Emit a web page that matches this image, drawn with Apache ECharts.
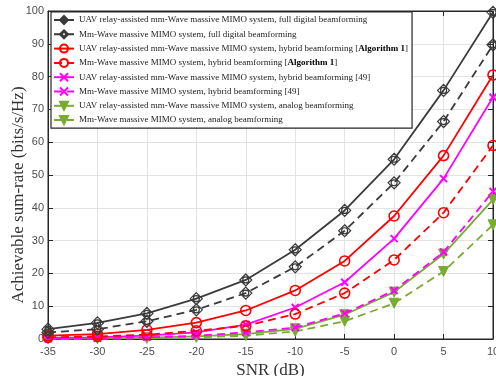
<!DOCTYPE html>
<html><head><meta charset="utf-8">
<script src="https://cdn.jsdelivr.net/npm/echarts@6/dist/echarts.min.js"></script>
<style>html,body{margin:0;padding:0;background:#fff}#c{width:496px;height:376px}</style>
</head><body><div id="c"></div>
<script>
const snr = [-35, -30, -25, -20, -15, -10, -5, 0, 5, 10];
const xTicks = [-35, -30, -25, -20, -15, -10, -5, 0, 5, 10];
const yTicks = [0, 10, 20, 30, 40, 50, 60, 70, 80, 90, 100];
const uavFullDigital = [3, 4.9, 7.8, 12.3, 18, 27.2, 39.2, 54.8, 75.8, 99.6];
const mmFullDigital = [2, 3, 5.4, 8.9, 14, 22, 33, 47.6, 66.3, 89.7];
const uavHybridAlg1 = [1, 1.5, 2.8, 5, 8.7, 14.8, 23.8, 37.5, 55.9, 80.5];
const mmHybridAlg1 = [0.5, 0.8, 1.3, 2.5, 4, 7.6, 14, 24.1, 38.5, 59];
const uavHybrid49 = [0.3, 0.5, 1, 2, 4.4, 9.6, 17.3, 30.6, 48.9, 73.7];
const mmHybrid49 = [0.1, 0.2, 0.5, 1, 2, 3.5, 7.8, 14.8, 26.5, 45];
const uavAnalog = [0.1, 0.2, 0.4, 0.8, 1.5, 3.1, 7.4, 14.3, 25.9, 42.5];
const mmAnalog = [0.05, 0.1, 0.2, 0.5, 1, 2.3, 5.4, 10.9, 20.6, 34.8];
const names = [
  'UAV relay-assisted mm-Wave massive MIMO system, full digital beamforming',
  'Mm-Wave massive MIMO system, full digital beamforming',
  'UAV relay-assisted mm-Wave massive MIMO system, hybrid beamforming [Algorithm 1]',
  'Mm-Wave massive MIMO system, hybrid beamforming [Algorithm 1]',
  'UAV relay-assisted mm-Wave massive MIMO system, hybrid beamforming [49]',
  'Mm-Wave massive MIMO system, hybrid beamforming [49]',
  'UAV relay-assisted mm-Wave massive MIMO system, analog beamforming',
  'Mm-Wave massive MIMO system, analog beamforming'
];
const datas = [uavFullDigital, mmFullDigital, uavHybridAlg1, mmHybridAlg1, uavHybrid49, mmHybrid49, uavAnalog, mmAnalog];

const DIAMOND = 'path://M0,-10 L10,0 L0,10 L-10,0 Z M5,0 A5,5 0 1,1 -5,0 A5,5 0 1,1 5,0 Z';
const XMARK = 'path://M-5,-5 L5,5 M5,-5 L-5,5';
const styles = [
  {c:'#3a3a3a', sym:DIAMOND, size:12, dash:'solid', fill:'transparent', bw:1.2},
  {c:'#3a3a3a', sym:DIAMOND, size:12, dash:[8,5], fill:'transparent', bw:1.2},
  {c:'#ff0000', sym:'circle', size:10, dash:'solid', fill:'transparent', bw:1.6},
  {c:'#ff0000', sym:'circle', size:10, dash:[8,5], fill:'transparent', bw:1.6},
  {c:'#ff00ff', sym:XMARK, size:7, dash:'solid', fill:'transparent', bw:2},
  {c:'#ff00ff', sym:XMARK, size:7, dash:[8,5], fill:'transparent', bw:2},
  {c:'#77ac30', sym:'triangle', size:10, dash:'solid', fill:'#77ac30', bw:1},
  {c:'#77ac30', sym:'triangle', size:10, dash:[8,5], fill:'#77ac30', bw:1}
];

const series = names.map((n, i) => ({
  name: n,
  type: 'line',
  data: snr.map((x, j) => [x, datas[i][j]]),
  symbol: styles[i].sym,
  symbolSize: styles[i].size,
  symbolRotate: styles[i].sym === 'triangle' ? 180 : 0,
  showAllSymbol: true,
  lineStyle: {color: styles[i].c, width: 1.8, type: styles[i].dash},
  itemStyle: {color: styles[i].fill, borderColor: styles[i].c, borderWidth: styles[i].bw},
  z: 10 - i,
  animation: false
}));

const chart = echarts.init(document.getElementById('c'), null, {renderer: 'canvas'});
const tickLabel = {color: '#4d4d4d', fontFamily: 'Liberation Sans', fontSize: 11};
const axisLineStyle = {show: true, onZero: false, lineStyle: {color: '#262626'}};
chart.setOption({
  backgroundColor: '#fff',
  animation: false,
  grid: {left: 48, right: 3, top: 11, bottom: 37, containLabel: false, outerBoundsMode: 'none',
         show: true, borderColor: '#262626', borderWidth: 1},
  legend: {
    orient: 'vertical', left: 51, top: 12,
    itemWidth: 20, itemHeight: 10, itemGap: 4.3,
    padding: [3, 4, 3, 2],
    backgroundColor: '#fff', borderColor: '#262626', borderWidth: 1.2,
    data: names,
    formatter: function (n) {
      if (n.indexOf('[Algorithm 1]') >= 0) {
        return '{n|' + n.replace(' [Algorithm 1]', ' [') + '}{b|Algorithm 1}{n|]}';
      }
      return '{n|' + n + '}';
    },
    textStyle: {
      rich: {
        n: {fontFamily: 'Liberation Serif', fontSize: 9, color: '#222'},
        b: {fontFamily: 'Liberation Serif', fontSize: 9, fontWeight: 'bold', color: '#000'}
      }
    }
  },
  xAxis: [{
    type: 'value', min: -35, max: 10, interval: 5,
    name: 'SNR (dB)', nameLocation: 'middle', nameGap: 23, nameMoveOverlap: false,
    nameTextStyle: {fontFamily: 'Liberation Serif', fontSize: 17, color: '#333'},
    axisLine: axisLineStyle,
    axisTick: {inside: true, length: 5, lineStyle: {color: '#262626'}},
    axisLabel: Object.assign({margin: 7}, tickLabel),
    splitLine: {show: true, lineStyle: {color: '#e3e3e3', width: 1}}
  }, {
    type: 'value', position: 'top', min: -35, max: 10, interval: 5,
    axisLine: axisLineStyle,
    axisTick: {inside: true, length: 5, lineStyle: {color: '#262626'}},
    axisLabel: {show: false}, splitLine: {show: false}
  }],
  yAxis: [{
    type: 'value', min: 0, max: 100, interval: 10,
    name: 'Achievable sum-rate (bits/s/Hz)', nameLocation: 'middle', nameGap: 21, nameMoveOverlap: false,
    nameTextStyle: {fontFamily: 'Liberation Serif', fontSize: 17, color: '#333', padding: [0, 40, 0, 0]},
    axisLine: axisLineStyle,
    axisTick: {inside: true, length: 5, lineStyle: {color: '#262626'}},
    axisLabel: Object.assign({margin: 4}, tickLabel),
    splitLine: {show: true, lineStyle: {color: '#e3e3e3', width: 1}}
  }, {
    type: 'value', position: 'right', min: 0, max: 100, interval: 10,
    axisLine: axisLineStyle,
    axisTick: {inside: true, length: 5, lineStyle: {color: '#262626'}},
    axisLabel: {show: false}, splitLine: {show: false}
  }],
  series: series
});
</script></body></html>
